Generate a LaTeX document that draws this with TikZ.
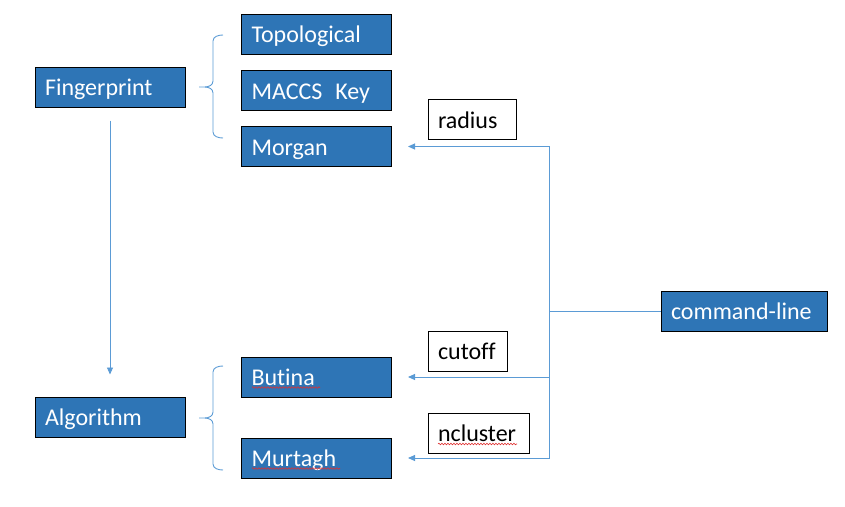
\documentclass[tikz,border=0pt]{standalone}
\usepackage{fontspec}
\setmainfont{Carlito}[Ligatures={NoCommon}]
\usetikzlibrary{arrows.meta,decorations.pathmorphing}
\definecolor{boxblue}{HTML}{2E75B6}
\definecolor{linkblue}{HTML}{5B9BD5}
\definecolor{spellred}{HTML}{E03030}
\tikzset{
  bluebox/.style={draw=black, line width=1pt, fill=boxblue, text=white,
    minimum width=150pt, minimum height=40pt, inner xsep=10pt, inner ysep=0pt,
    text width=130pt, align=left, text height=17pt, text depth=0pt,
    font=\fontsize{24}{28}\selectfont},
  parambox/.style={draw=black, line width=1pt, fill=white, text=black,
    minimum height=40pt, inner xsep=10pt, inner ysep=0pt, align=left,
    text height=17pt, text depth=0pt, font=\fontsize{24}{28}\selectfont},
  conn/.style={draw=linkblue, line width=0.9pt},
  arr/.style={conn, -{Triangle[length=7pt,width=6pt]}},
  squiggle/.style={draw=spellred, line width=0.6pt,
    decorate, decoration={snake, segment length=3pt, amplitude=0.8pt}}
}
\begin{document}
\begin{tikzpicture}[x=1pt,y=-1pt]
\useasboundingbox (0,0) rectangle (845,506);
% main boxes
\node[bluebox] (fp) at (110,87) {Fingerprint};
\node[bluebox] (alg) at (110,417) {Algorithm};
\node[bluebox] (topo) at (316.5,34) {Topological};
\node[bluebox] (maccs) at (316.5,90.5) {MACCS\hspace{5pt} Key};
\node[bluebox] (morgan) at (316.5,146.5) {Morgan};
\node[bluebox] (butina) at (316.5,377) {Butina};
\node[bluebox] (murtagh) at (316.5,458) {Murtagh};
\node[bluebox, minimum width=166pt, text width=146pt] (cmd) at (744,311) {command-line};
% parameter boxes
\node[parambox, minimum width=88pt, text width=68pt] (radius) at (472,119.5) {radius};
\node[parambox, minimum width=79pt, text width=59pt] (cutoff) at (467.5,351) {cutoff};
\node[parambox, minimum width=101pt, text width=81pt] (ncluster) at (478.5,433) {ncluster};
% fingerprint -> algorithm
\draw[arr, shorten <=13pt, shorten >=22pt] (fp.south) -- (alg.north);
% command-line connections
\coordinate (j) at (549,311);
\draw[conn] (cmd.west) -- (j);
\draw[arr, shorten >=16pt] (j) |- (morgan.east);
\draw[arr, shorten >=16pt] (j) |- (butina.east);
\draw[arr, shorten >=16pt] (j) |- (murtagh.east);
% braces
\draw[conn] (223,35) to[out=180,in=90] (213,41) -- (213,81)
  to[out=-90,in=0] (205,87) -- (199,87);
\draw[conn] (205,87) to[out=0,in=90] (213,93) -- (213,132)
  to[out=-90,in=180] (223,138);
\draw[conn] (223,366) to[out=180,in=90] (213,372) -- (213,412)
  to[out=-90,in=0] (205,418) -- (199,418);
\draw[conn] (205,418) to[out=0,in=90] (213,424) -- (213,464)
  to[out=-90,in=180] (223,470);
% spell-check underlines
\draw[squiggle] (252,387.5) -- (320,387.5);
\draw[squiggle] (252,468.5) -- (340,468.5);
\draw[squiggle] (438,444) -- (517,444);
\end{tikzpicture}
\end{document}
